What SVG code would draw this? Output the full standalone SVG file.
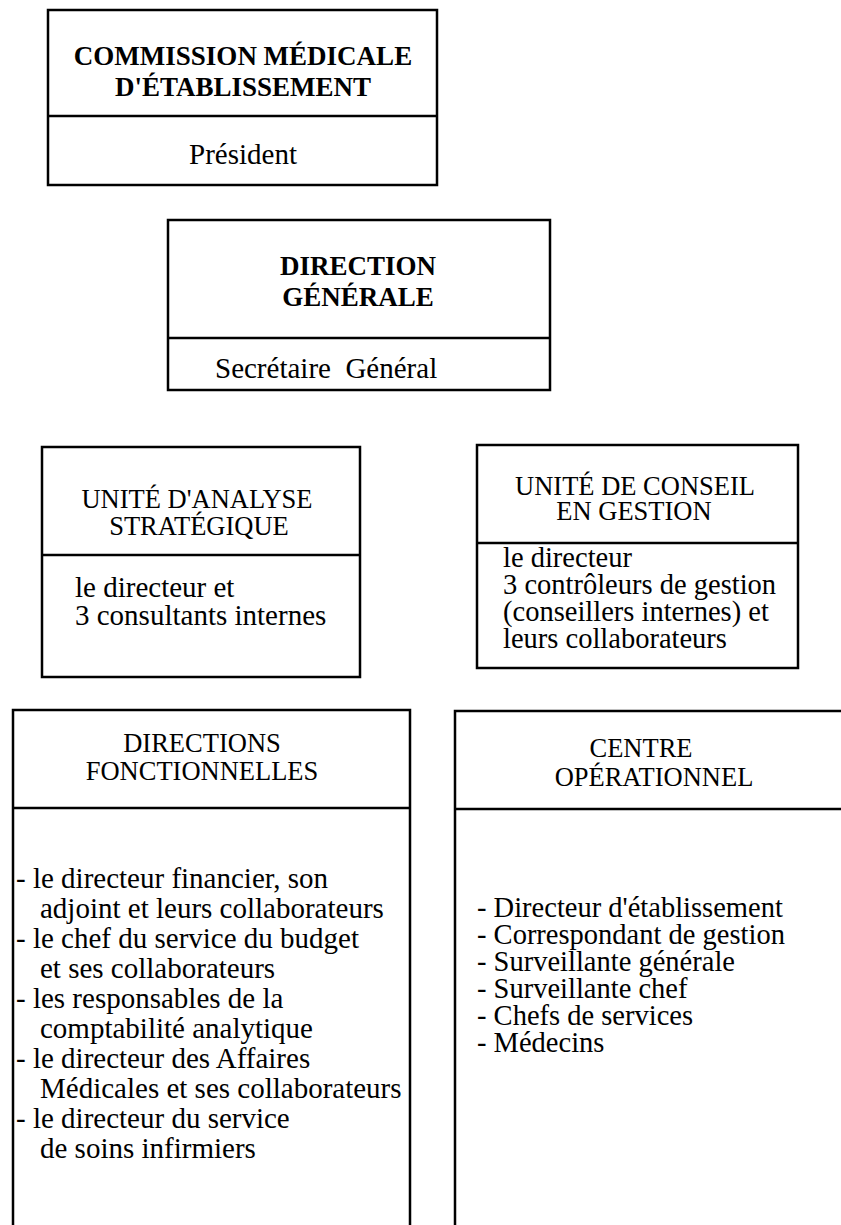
<svg xmlns="http://www.w3.org/2000/svg" width="841" height="1225" viewBox="0 0 841 1225">
  <style>
    .frame { fill: none; stroke: #000; stroke-width: 2.5; }
    .rule { stroke: #000; stroke-width: 2.5; }
    text { font-family: "Liberation Serif", "Times New Roman", serif; fill: #000; }
    .head { font-size: 27px; font-weight: bold; text-anchor: middle; }
    .title { font-size: 26.5px; text-anchor: middle; }
    .body { font-size: 29px; }
    .list { font-size: 28.5px; }
  </style>
  <rect width="841" height="1225" fill="#fff"/>

  <!-- Commission médicale -->
  <g id="commission">
    <rect class="frame" x="48" y="10" width="389" height="175"/>
    <line class="rule" x1="48" y1="116" x2="437" y2="116"/>
    <text class="head" x="243" y="65">COMMISSION MÉDICALE</text>
    <text class="head" x="243" y="96">D'ÉTABLISSEMENT</text>
    <text class="body" x="243" y="164" text-anchor="middle">Président</text>
  </g>

  <!-- Direction générale -->
  <g id="direction-generale">
    <rect class="frame" x="168" y="220" width="382" height="170"/>
    <line class="rule" x1="168" y1="338" x2="550" y2="338"/>
    <text class="head" x="358" y="275">DIRECTION</text>
    <text class="head" x="358" y="306">GÉNÉRALE</text>
    <text class="body" x="215" y="378" xml:space="preserve">Secrétaire  Général</text>
  </g>

  <!-- Unité d'analyse stratégique -->
  <g id="analyse-strategique">
    <rect class="frame" x="42" y="447" width="318" height="230"/>
    <line class="rule" x1="42" y1="555" x2="360" y2="555"/>
    <text class="title" x="197" y="508">UNITÉ D'ANALYSE</text>
    <text class="title" x="199" y="535">STRATÉGIQUE</text>
    <text class="body" x="75" y="597">le directeur et</text>
    <text class="body" x="75" y="625">3 consultants internes</text>
  </g>

  <!-- Unité de conseil en gestion -->
  <g id="conseil-gestion">
    <rect class="frame" x="477" y="445" width="321" height="223"/>
    <line class="rule" x1="477" y1="543" x2="798" y2="543"/>
    <text class="title" x="635" y="495">UNITÉ DE CONSEIL</text>
    <text class="title" x="634" y="520">EN GESTION</text>
    <text class="list" x="503" y="567">le directeur</text>
    <text class="list" x="503" y="594">3 contrôleurs de gestion</text>
    <text class="list" x="503" y="621">(conseillers internes) et</text>
    <text class="list" x="503" y="648">leurs collaborateurs</text>
  </g>

  <!-- Directions fonctionnelles (open at the foot of the page) -->
  <g id="directions-fonctionnelles">
    <path class="frame" d="M13 1226 V710 H410 V1226"/>
    <line class="rule" x1="13" y1="808" x2="410" y2="808"/>
    <text class="title" x="202" y="752">DIRECTIONS</text>
    <text class="title" x="202" y="780">FONCTIONNELLES</text>
    <g class="body">
      <text x="16" y="888">- le directeur financier, son</text>
      <text x="40" y="918">adjoint et leurs collaborateurs</text>
      <text x="16" y="948">- le chef du service du budget</text>
      <text x="40" y="978">et ses collaborateurs</text>
      <text x="16" y="1008">- les responsables de la</text>
      <text x="40" y="1038">comptabilité analytique</text>
      <text x="16" y="1068">- le directeur des Affaires</text>
      <text x="40" y="1098">Médicales et ses collaborateurs</text>
      <text x="16" y="1128">- le directeur du service</text>
      <text x="40" y="1158">de soins infirmiers</text>
    </g>
  </g>

  <!-- Centre opérationnel (runs past the page edge) -->
  <g id="centre-operationnel">
    <path class="frame" d="M455 1226 V711 H842"/>
    <line class="rule" x1="455" y1="809" x2="842" y2="809"/>
    <text class="title" x="641" y="757">CENTRE</text>
    <text class="title" x="654" y="786">OPÉRATIONNEL</text>
    <g class="list">
      <text x="477" y="917">- Directeur d'établissement</text>
      <text x="477" y="944">- Correspondant de gestion</text>
      <text x="477" y="971">- Surveillante générale</text>
      <text x="477" y="998">- Surveillante chef</text>
      <text x="477" y="1025">- Chefs de services</text>
      <text x="477" y="1052">- Médecins</text>
    </g>
  </g>

  <g id="connectors"/>
</svg>
